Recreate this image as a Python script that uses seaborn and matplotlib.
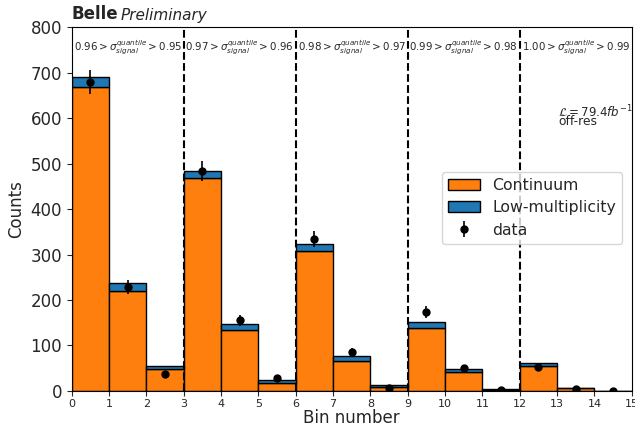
import numpy as np
import pandas as pd
import matplotlib
matplotlib.use("Agg")
import matplotlib.pyplot as plt
import seaborn as sns
from matplotlib.patches import Patch

bin_centers = [0.5, 1.5, 2.5, 3.5, 4.5, 5.5, 6.5, 7.5, 8.5, 9.5, 10.5, 11.5, 12.5, 13.5, 14.5]
continuum = [668, 220, 48, 468, 135, 18, 308, 66, 9.5, 139, 42, 2.5, 55, 6.5, 0.4]
lowmult = [22, 17, 7, 16, 12, 5.5, 15, 11, 2.5, 12, 5.6, 1.0, 6, 1.0, 0.1]
data = [679, 229, 37, 483, 155, 28, 334, 85, 6, 173, 50, 1.5, 53, 5, 0.5]
data_err = [26, 15, 6, 22, 12, 5.3, 18, 9.2, 2.4, 13, 7, 1.2, 7.3, 2.2, 0.7]
region_labels = [
    r"$0.96 > \sigma^{quantile}_{signal} > 0.95$",
    r"$0.97 > \sigma^{quantile}_{signal} > 0.96$",
    r"$0.98 > \sigma^{quantile}_{signal} > 0.97$",
    r"$0.99 > \sigma^{quantile}_{signal} > 0.98$",
    r"$1.00 > \sigma^{quantile}_{signal} > 0.99$",
]
region_centers = [1.5, 4.5, 7.5, 10.5, 13.5]
dividers = [3, 6, 9, 12]

sns.set_style("ticks")
plt.rcParams['font.family'] = ['DejaVu Sans']

df = pd.DataFrame({
    "x": bin_centers * 2,
    "w": continuum + lowmult,
    "comp": ["Continuum"] * len(bin_centers) + ["Low-multiplicity"] * len(bin_centers),
})

fig = plt.figure(figsize=(6.35, 4.24), dpi=100)
ax = fig.add_axes([0.113, 0.078, 0.882, 0.858])

sns.histplot(data=df, x="x", weights="w", hue="comp",
             hue_order=["Low-multiplicity", "Continuum"],
             palette={"Continuum": "#ff7f0e", "Low-multiplicity": "#1f77b4"},
             binwidth=1, binrange=(0, 15), multiple="stack", element="bars",
             edgecolor="black", linewidth=1, alpha=1, ax=ax, legend=False)

eb = ax.errorbar(bin_centers, data, yerr=data_err, fmt="o", color="black",
                 markersize=5, elinewidth=1.2, label="data")

for d in dividers:
    ax.axvline(d, color="black", linestyle="--", linewidth=1.5)

for c, lab in zip(region_centers, region_labels):
    ax.text(c, 755, lab, ha="center", va="center", fontsize=7.4)

ax.text(13.02, 613, r"$\mathcal{L} = 79.4 fb^{-1}$", fontsize=8.5, va="center")
ax.text(13.02, 592, "off-res", fontsize=8.8, va="center")

ax.set_xlim(0, 15)
ax.set_ylim(0, 800)
ax.set_xticks(range(0, 16))
ax.set_yticks(range(0, 801, 100))
ax.tick_params(axis="both", length=3.5, width=0.8, pad=3.5)
ax.tick_params(axis="x", labelsize=8, pad=2)
ax.tick_params(axis="y", labelsize=12)
ax.set_xlabel("Bin number", fontsize=12, labelpad=0)
ax.set_ylabel("Counts", fontsize=12, labelpad=4)
for s in ax.spines.values():
    s.set_visible(True)
    s.set_color("black")
    s.set_linewidth(0.8)

handles = [Patch(facecolor="#ff7f0e", edgecolor="black", label="Continuum"),
           Patch(facecolor="#1f77b4", edgecolor="black", label="Low-multiplicity"),
           eb]
ax.legend(handles=handles, labels=["Continuum", "Low-multiplicity", "data"],
          loc="center right", bbox_to_anchor=(0.997, 0.503), fontsize=11.3,
          borderpad=0.4, labelspacing=0.45)

ax.text(0.0, 1.012, "Belle", transform=ax.transAxes, fontsize=12, fontweight="bold", ha="left", va="bottom")
ax.text(0.087, 1.012, "Preliminary", transform=ax.transAxes, fontsize=11, fontstyle="italic", ha="left", va="bottom")

fig.savefig("out.png", dpi=100)
